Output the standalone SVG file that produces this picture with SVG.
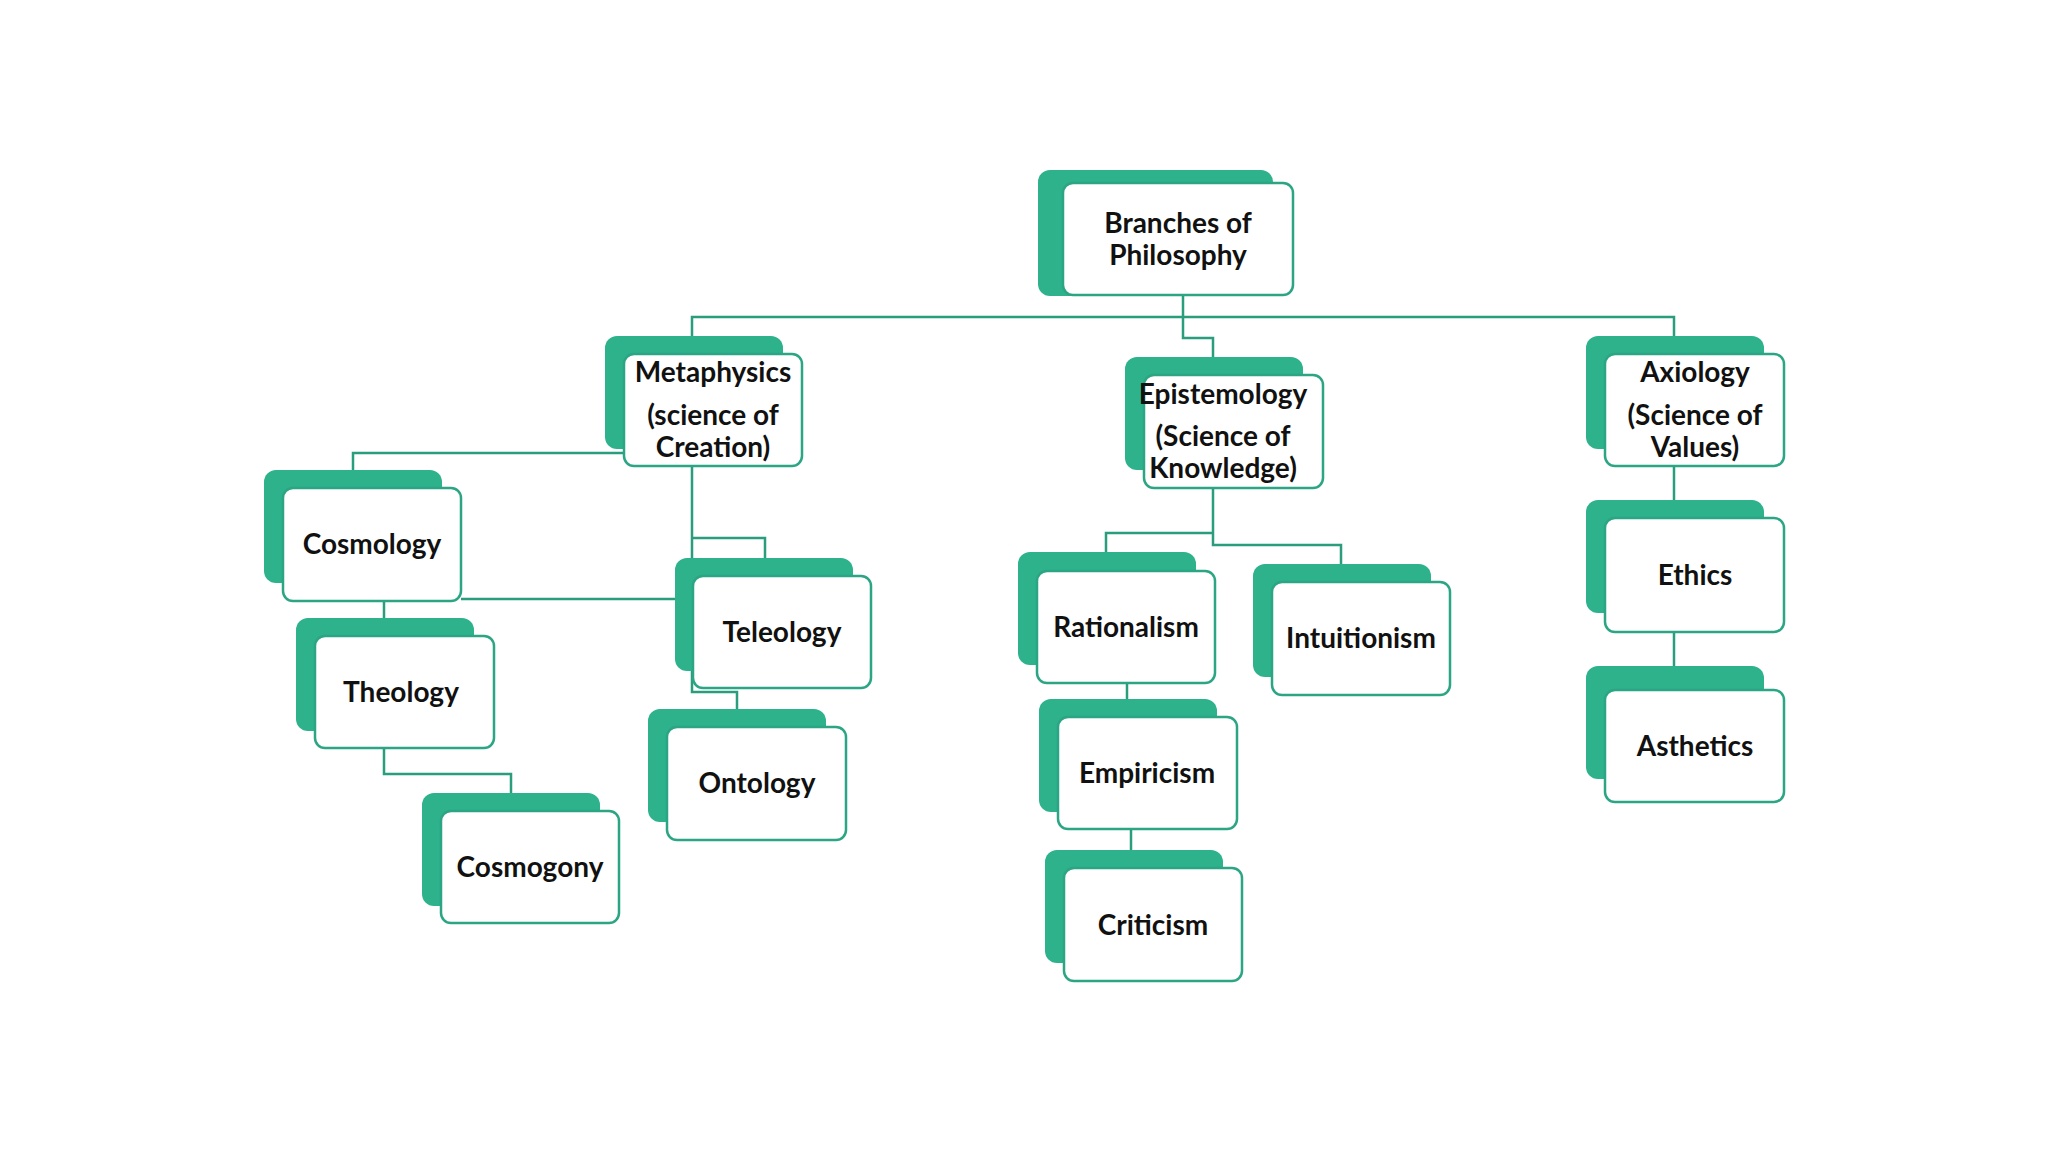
<svg xmlns="http://www.w3.org/2000/svg" width="2048" height="1152" viewBox="0 0 2048 1152">
<style>
.b{fill:#2db28c}
.f{fill:#fff;stroke:#2ba584;stroke-width:2.5}
.t{font-family:Lato,"Liberation Sans",sans-serif;font-weight:bold;font-size:28px;fill:#111;text-anchor:middle}
#connectors path{fill:none;stroke:#2a9d7c;stroke-width:2.5}
</style>
<rect width="2048" height="1152" fill="#fff"/>
<g id="connectors">
<path d="M1183 295V338H1213V362"/>
<path d="M692 336V317H1674V336"/>
<path d="M624 453H353V470"/>
<path d="M692 466V692H737V714M692 538H765V563"/>
<path d="M461 599H675"/>
<path d="M384 601V623"/>
<path d="M384 748V774H511V798"/>
<path d="M1213 488V545H1341V569M1213 533H1106V558"/>
<path d="M1127 683V704"/>
<path d="M1131 829V855"/>
<path d="M1674 466V505"/>
<path d="M1674 632V677"/>
</g>
<g id="root"><rect class="b" x="1038" y="170" width="235" height="126" rx="12"/><rect class="f" x="1063" y="183" width="230" height="112" rx="10"/><text class="t" x="1178" y="233">Branches of</text><text class="t" x="1178" y="265">Philosophy</text></g>
<g id="metaphysics"><rect class="b" x="605" y="336" width="178" height="113" rx="12"/><rect class="f" x="624" y="354" width="178" height="112" rx="10"/><text class="t" x="713" y="382">Metaphysics</text><text class="t" x="713" y="425">(science of</text><text class="t" x="713" y="457">Creation)</text></g>
<g id="epistemology"><rect class="b" x="1125" y="357" width="178" height="113" rx="12"/><rect class="f" x="1144" y="375" width="179" height="113" rx="10"/><text class="t" x="1223" y="404">Epistemology</text><text class="t" x="1223" y="446">(Science of</text><text class="t" x="1223" y="478">Knowledge)</text></g>
<g id="axiology"><rect class="b" x="1586" y="336" width="178" height="113" rx="12"/><rect class="f" x="1605" y="354" width="179" height="112" rx="10"/><text class="t" x="1695" y="382">Axiology</text><text class="t" x="1695" y="425">(Science of</text><text class="t" x="1695" y="457">Values)</text></g>
<g id="cosmology"><rect class="b" x="264" y="470" width="178" height="113" rx="12"/><rect class="f" x="283" y="488" width="178" height="113" rx="10"/><text class="t" x="372" y="554">Cosmology</text></g>
<g id="theology"><rect class="b" x="296" y="618" width="178" height="113" rx="12"/><rect class="f" x="315" y="636" width="179" height="112" rx="10"/><text class="t" x="401" y="702">Theology</text></g>
<g id="cosmogony"><rect class="b" x="422" y="793" width="178" height="113" rx="12"/><rect class="f" x="441" y="811" width="178" height="112" rx="10"/><text class="t" x="530" y="877">Cosmogony</text></g>
<g id="teleology"><rect class="b" x="675" y="558" width="178" height="113" rx="12"/><rect class="f" x="693" y="576" width="178" height="112" rx="10"/><text class="t" x="782" y="642">Teleology</text></g>
<g id="ontology"><rect class="b" x="648" y="709" width="178" height="113" rx="12"/><rect class="f" x="667" y="727" width="179" height="113" rx="10"/><text class="t" x="757" y="793">Ontology</text></g>
<g id="rationalism"><rect class="b" x="1018" y="552" width="178" height="113" rx="12"/><rect class="f" x="1037" y="571" width="178" height="112" rx="10"/><text class="t" x="1126" y="637">Rationalism</text></g>
<g id="intuitionism"><rect class="b" x="1253" y="564" width="178" height="113" rx="12"/><rect class="f" x="1272" y="582" width="178" height="113" rx="10"/><text class="t" x="1361" y="648">Intuitionism</text></g>
<g id="empiricism"><rect class="b" x="1039" y="699" width="178" height="113" rx="12"/><rect class="f" x="1058" y="717" width="179" height="112" rx="10"/><text class="t" x="1147" y="783">Empiricism</text></g>
<g id="criticism"><rect class="b" x="1045" y="850" width="178" height="113" rx="12"/><rect class="f" x="1064" y="868" width="178" height="113" rx="10"/><text class="t" x="1153" y="935">Criticism</text></g>
<g id="ethics"><rect class="b" x="1586" y="500" width="178" height="113" rx="12"/><rect class="f" x="1605" y="518" width="179" height="114" rx="10"/><text class="t" x="1695" y="585">Ethics</text></g>
<g id="asthetics"><rect class="b" x="1586" y="666" width="178" height="113" rx="12"/><rect class="f" x="1605" y="690" width="179" height="112" rx="10"/><text class="t" x="1695" y="756">Asthetics</text></g>
</svg>
